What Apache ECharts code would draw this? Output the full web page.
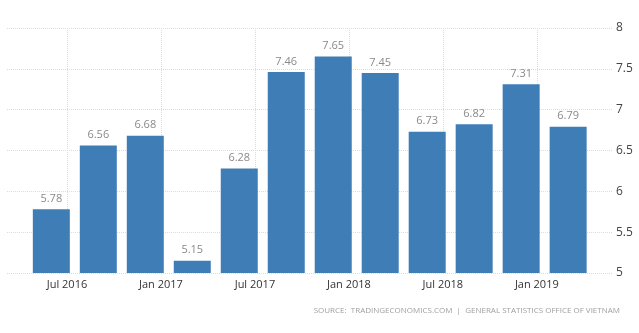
<!DOCTYPE html>
<html>
<head>
<meta charset="utf-8">
<script src="https://cdn.jsdelivr.net/npm/echarts@6/dist/echarts.min.js"></script>
<style>
  html, body { margin: 0; padding: 0; background: #fff; }
  #chart { width: 639px; height: 333px; }
</style>
</head>
<body>
<div id="chart"></div>
<script>
// Vietnam GDP annual growth rate, by quarter (%)
const quarters = ['2016 Q2', '2016 Q3', '2016 Q4', '2017 Q1', '2017 Q2', '2017 Q3',
                  '2017 Q4', '2018 Q1', '2018 Q2', '2018 Q3', '2018 Q4', '2019 Q1'];
const growth = [5.78, 6.56, 6.68, 5.15, 6.28, 7.46, 7.65, 7.45, 6.73, 6.82, 7.31, 6.79];
const dateTicks = ['Jul 2016', 'Jan 2017', 'Jul 2017', 'Jan 2018', 'Jul 2018', 'Jan 2019'];
const valueTicks = [5, 5.5, 6, 6.5, 7, 7.5, 8];
const sourceNote = 'SOURCE:  TRADINGECONOMICS.COM  |  GENERAL STATISTICS OFFICE OF VIETNAM';

// Months counted from January 2016 (0 = Jan 2016)
const MONTHS = ['Jan','Feb','Mar','Apr','May','Jun','Jul','Aug','Sep','Oct','Nov','Dec'];
function quarterMonth(q) {           // last month of the quarter
  const [y, n] = q.split(' Q');
  return (Number(y) - 2016) * 12 + Number(n) * 3 - 1;
}
function labelMonth(s) {
  const [m, y] = s.split(' ');
  return (Number(y) - 2016) * 12 + MONTHS.indexOf(m);
}
function monthLabel(v) {
  const y = 2016 + Math.floor(v / 12);
  return MONTHS[((v % 12) + 12) % 12] + ' ' + y;
}

const tickMonths = dateTicks.map(labelMonth);
const barData = quarters.map((q, i) => [quarterMonth(q), growth[i]]);

const chart = echarts.init(document.getElementById('chart'), null, { renderer: 'canvas' });
const gridColor = '#dcdcdc';
const font = '"Open Sans", "Liberation Sans", sans-serif';

chart.setOption({
  animation: false,
  backgroundColor: '#ffffff',
  grid: { left: 7, right: 27, top: 28, bottom: 60, containLabel: false },
  xAxis: {
    type: 'value',
    min: 2.17,
    max: 40.8,
    axisLine: { show: false },
    axisTick: { show: false, customValues: tickMonths },
    axisLabel: {
      customValues: tickMonths,
      formatter: (v) => monthLabel(Math.round(v)),
      color: '#333333',
      fontFamily: font,
      fontSize: 11,
      margin: 6
    },
    splitLine: { show: true, lineStyle: { color: gridColor, type: 'dotted', width: 1 } }
  },
  yAxis: {
    type: 'value',
    position: 'right',
    min: valueTicks[0],
    max: valueTicks[valueTicks.length - 1],
    interval: 0.5,
    axisLine: { show: false },
    axisTick: { show: false },
    axisLabel: {
      color: '#444444',
      fontFamily: font,
      fontSize: 12,
      margin: 4
    },
    splitLine: { show: true, lineStyle: { color: gridColor, type: 'dotted', width: 1 } }
  },
  series: [{
    type: 'bar',
    data: barData,
    barWidth: 37,
    itemStyle: { color: '#3f7db7' },
    label: {
      show: true,
      position: 'top',
      distance: 5,
      color: '#8a8a8a',
      fontFamily: font,
      fontSize: 11,
      formatter: (p) => p.value[1].toFixed(2)
    }
  }],
  graphic: [{
    type: 'text',
    right: 19,
    top: 307,
    style: {
      text: sourceNote,
      fill: '#a0a0a0',
      font: '8px ' + font
    }
  }]
});
</script>
</body>
</html>
